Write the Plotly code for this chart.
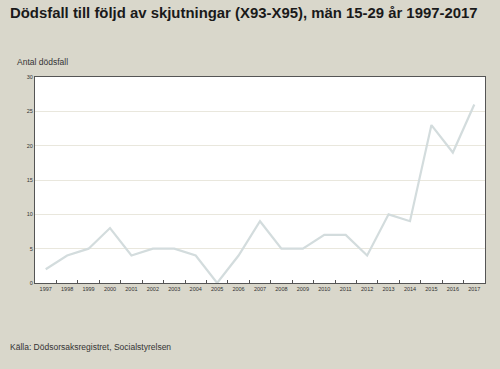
import plotly.graph_objects as go

years = [str(y) for y in range(1997, 2018)]
deaths = [2, 4, 5, 8, 4, 5, 5, 4, 0, 4, 9, 5, 5, 7, 7, 4, 10, 9, 23, 19, 26]
y_ticks = [0, 5, 10, 15, 20, 25, 30]

BG = "#D9D7CB"

fig = go.Figure()
fig.add_trace(go.Scatter(
    x=years, y=deaths, mode="lines",
    line=dict(color="#D3DCDD", width=2.2),
    hoverinfo="x+y",
))

fig.update_layout(
    width=500, height=369,
    paper_bgcolor=BG, plot_bgcolor="white",
    margin=dict(l=35, r=15, t=77, b=86),
    showlegend=False,
    font=dict(family="Liberation Sans, Arial, sans-serif", color="#333333"),
    title=dict(
        text="<b>Dödsfall till följd av skjutningar (X93-X95), män 15-29 år 1997-2017</b>",
        x=0.02, xanchor="left", y=0.965, yanchor="middle",
        font=dict(size=14.9, color="#1a1a1a", family="Liberation Sans, Arial, sans-serif"),
    ),
)

fig.update_xaxes(
    type="category", range=[-0.5, 20.5],
    showline=True, linecolor="#555555", linewidth=1.2, mirror=True,
    ticks="inside", tickson="boundaries", ticklen=3, tickcolor="#555555",
    showgrid=False, tickangle=0, tickfont=dict(size=5.5, color="#333333"),
)
fig.update_yaxes(
    range=[0, 30], tickvals=y_ticks,
    showline=True, linecolor="#555555", linewidth=1.2, mirror=True,
    gridcolor="#E9E7DD", gridwidth=1, zeroline=False,
    ticks="", tickfont=dict(size=5.5, color="#333333"),
)

fig.add_annotation(text="Antal dödsfall", xref="paper", yref="paper",
                   x=-0.045, y=1.075, xanchor="left", yanchor="middle",
                   showarrow=False, font=dict(size=8.5, color="#333333"))
fig.add_annotation(text="Källa: Dödsorsaksregistret, Socialstyrelsen", xref="paper", yref="paper",
                   x=-0.06, y=-0.31, xanchor="left", yanchor="middle",
                   showarrow=False, font=dict(size=8.5, color="#333333"))

fig.write_html("out.html", config={"displayModeBar": False},
               post_script="document.body.style.margin='0';document.body.style.background='%s';" % BG)
